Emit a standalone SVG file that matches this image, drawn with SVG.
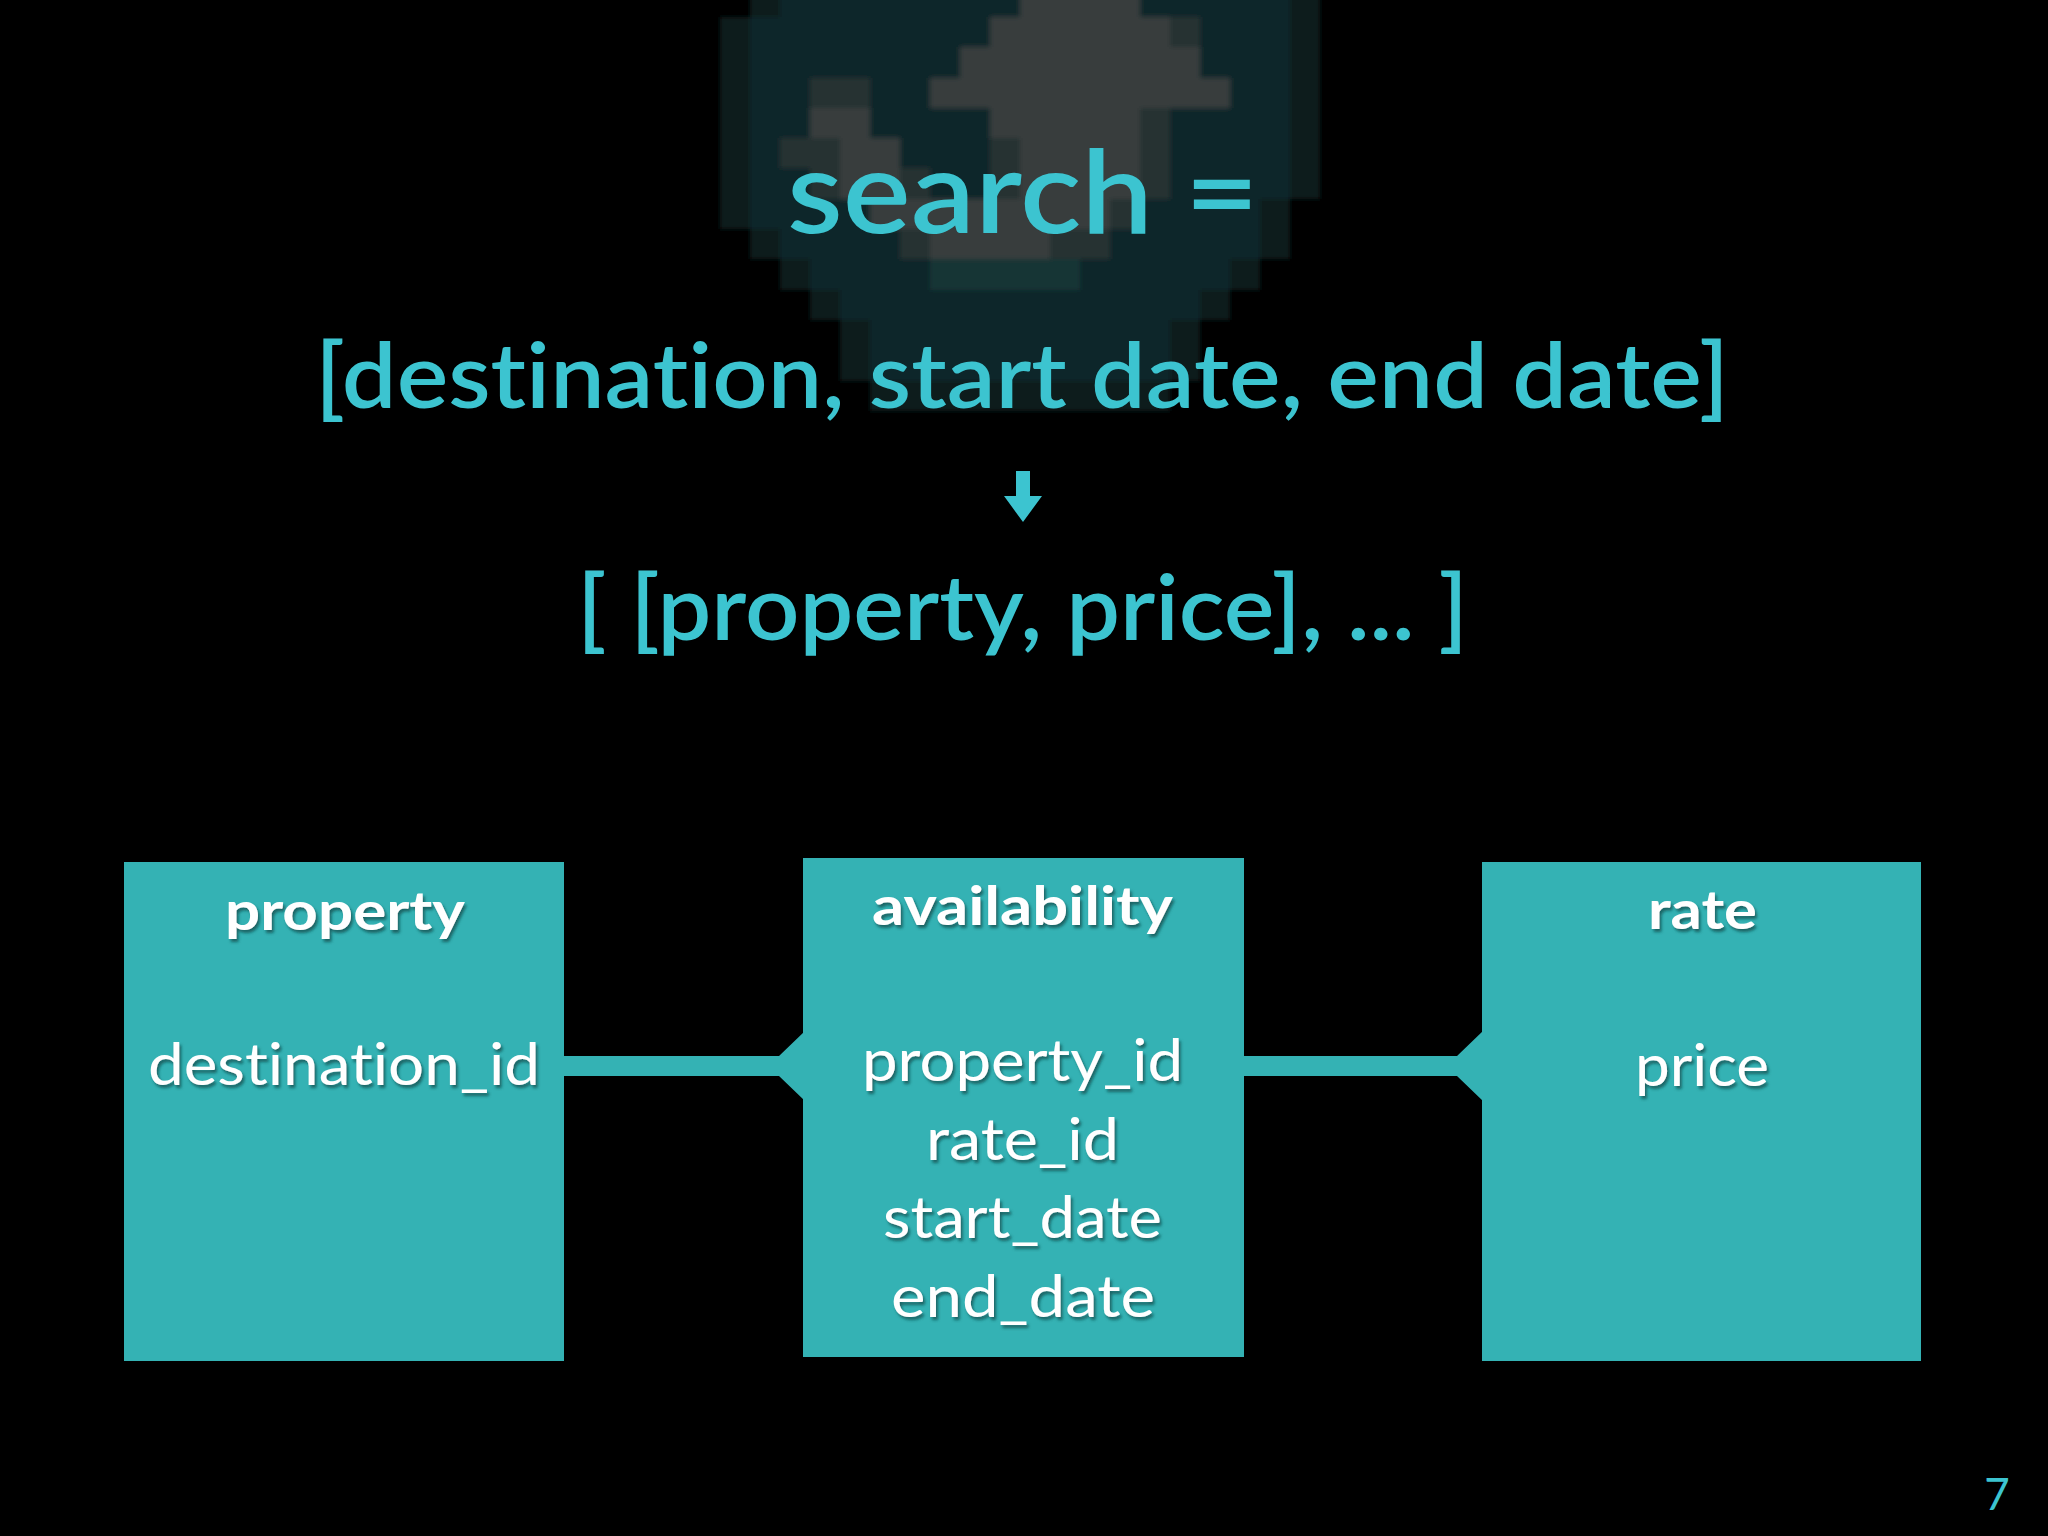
<svg xmlns="http://www.w3.org/2000/svg" width="2048" height="1536" viewBox="0 0 2048 1536">
  <defs>
    <style>
      text { font-variant-ligatures: none; font-feature-settings: "liga" 0; }
      .title { font-family: Lato, "Open Sans", sans-serif; font-weight: 600; fill: #3cc4d0; }
      .pg { font-family: Lato, "Open Sans", sans-serif; font-weight: 400; font-size: 44px; fill: #3cc4d0; }
      .box { fill: #34b2b4; }
      .hdr { font-family: Lato, "Open Sans", sans-serif; font-weight: bold; font-size: 54px; fill: #ffffff; filter: url(#sh); }
      .fld { font-family: Lato, "Open Sans", sans-serif; font-size: 58px; fill: #ffffff; filter: url(#sh); }
      .conn { fill: #34b2b4; }
      .D { fill: #0b1c1e; } .T { fill: #0f282a; } .T2 { fill: #163435; } .g { fill: #283131; } .G { fill: #393c3c; }
    </style>
    <filter id="sh" x="-10%" y="-30%" width="120%" height="160%">
      <feDropShadow dx="2" dy="3" stdDeviation="1.5" flood-color="#114b4c" flood-opacity="0.75"/>
    </filter>
    <filter id="soft" x="-5%" y="-5%" width="110%" height="110%">
      <feGaussianBlur stdDeviation="2.5"/>
    </filter>
  </defs>
  <rect width="2048" height="1536" fill="#000000"/>

  <!-- pixelated background image -->
  <g id="mosaic" filter="url(#soft)">
  <g transform="translate(720,-13.3) scale(30,30.3)" shape-rendering="crispEdges">
    <rect class="D" x="1" y="0" width="1" height="1"/><rect class="T" x="2" y="0" width="8" height="1"/><rect class="G" x="10" y="0" width="4" height="1"/><rect class="T" x="14" y="0" width="5" height="1"/><rect class="D" x="19" y="0" width="1" height="1"/>
    <rect class="D" x="0" y="1" width="1" height="1"/><rect class="T" x="1" y="1" width="8" height="1"/><rect class="G" x="9" y="1" width="6" height="1"/><rect class="g" x="15" y="1" width="1" height="1"/><rect class="T" x="16" y="1" width="3" height="1"/><rect class="D" x="19" y="1" width="1" height="1"/>
    <rect class="D" x="0" y="2" width="1" height="1"/><rect class="T" x="1" y="2" width="7" height="1"/><rect class="G" x="8" y="2" width="8" height="1"/><rect class="T" x="16" y="2" width="3" height="1"/><rect class="D" x="19" y="2" width="1" height="1"/>
    <rect class="D" x="0" y="3" width="1" height="1"/><rect class="T" x="1" y="3" width="2" height="1"/><rect class="g" x="3" y="3" width="2" height="1"/><rect class="T" x="5" y="3" width="2" height="1"/><rect class="G" x="7" y="3" width="10" height="1"/><rect class="T" x="17" y="3" width="2" height="1"/><rect class="D" x="19" y="3" width="1" height="1"/>
    <rect class="D" x="0" y="4" width="1" height="1"/><rect class="T" x="1" y="4" width="2" height="1"/><rect class="G" x="3" y="4" width="2" height="1"/><rect class="T" x="5" y="4" width="4" height="1"/><rect class="G" x="9" y="4" width="5" height="1"/><rect class="g" x="14" y="4" width="1" height="1"/><rect class="T" x="15" y="4" width="4" height="1"/><rect class="D" x="19" y="4" width="1" height="1"/>
    <rect class="D" x="0" y="5" width="1" height="1"/><rect class="T" x="1" y="5" width="1" height="1"/><rect class="g" x="2" y="5" width="2" height="1"/><rect class="G" x="4" y="5" width="2" height="1"/><rect class="T" x="6" y="5" width="3" height="1"/><rect class="g" x="9" y="5" width="1" height="1"/><rect class="G" x="10" y="5" width="4" height="1"/><rect class="g" x="14" y="5" width="1" height="1"/><rect class="T" x="15" y="5" width="4" height="1"/><rect class="D" x="19" y="5" width="1" height="1"/>
    <rect class="D" x="0" y="6" width="1" height="1"/><rect class="T" x="1" y="6" width="2" height="1"/><rect class="g" x="3" y="6" width="1" height="1"/><rect class="G" x="4" y="6" width="2" height="1"/><rect class="g" x="6" y="6" width="1" height="1"/><rect class="T" x="7" y="6" width="2" height="1"/><rect class="g" x="9" y="6" width="1" height="1"/><rect class="G" x="10" y="6" width="4" height="1"/><rect class="g" x="14" y="6" width="1" height="1"/><rect class="T" x="15" y="6" width="4" height="1"/><rect class="D" x="19" y="6" width="1" height="1"/>
    <rect class="D" x="0" y="7" width="1" height="1"/><rect class="T" x="1" y="7" width="4" height="1"/><rect class="G" x="5" y="7" width="8" height="1"/><rect class="g" x="13" y="7" width="1" height="1"/><rect class="T" x="14" y="7" width="4" height="1"/><rect class="D" x="18" y="7" width="1" height="1"/>
    <rect class="D" x="1" y="8" width="1" height="1"/><rect class="T" x="2" y="8" width="4" height="1"/><rect class="g" x="6" y="8" width="1" height="1"/><rect class="G" x="7" y="8" width="4" height="1"/><rect class="g" x="11" y="8" width="2" height="1"/><rect class="T" x="13" y="8" width="5" height="1"/><rect class="D" x="18" y="8" width="1" height="1"/>
    <rect class="D" x="2" y="9" width="1" height="1"/><rect class="T" x="3" y="9" width="4" height="1"/><rect class="T2" x="7" y="9" width="5" height="1"/><rect class="T" x="12" y="9" width="5" height="1"/><rect class="D" x="17" y="9" width="1" height="1"/>
    <rect class="D" x="3" y="10" width="1" height="1"/><rect class="T" x="4" y="10" width="12" height="1"/><rect class="D" x="16" y="10" width="1" height="1"/>
    <rect class="D" x="4" y="11" width="1" height="1"/><rect class="T" x="5" y="11" width="10" height="1"/><rect class="D" x="15" y="11" width="1" height="1"/>
    <rect class="D" x="4" y="12" width="1" height="1"/><rect class="T" x="5" y="12" width="10" height="1"/><rect class="D" x="15" y="12" width="1" height="1"/>
    <rect class="D" x="5" y="13" width="10" height="1"/>
  </g>
  </g>

  <!-- headings -->
  <g id="heading">
    <text class="title" x="787" y="233" font-size="116" textLength="472" lengthAdjust="spacingAndGlyphs">search =</text>
    <text class="title" x="315" y="408" font-size="90" textLength="1414" lengthAdjust="spacingAndGlyphs">[destination, start date, end date]</text>
    <polygon class="title" points="1016,471 1030,471 1030,496 1042,496 1023,522 1004,496 1016,496"/>
    <text class="title" x="577" y="640" font-size="90" textLength="891" lengthAdjust="spacingAndGlyphs">[ [property, price], ... ]</text>
  </g>

  <!-- connectors -->
  <g id="connectors">
    <path class="conn" d="M562,1056 H779 L805,1031 V1101 L779,1076 H562 Z"/>
    <path class="conn" d="M1242,1056 H1457 L1484,1030 V1102 L1457,1076 H1242 Z"/>
  </g>

  <!-- nodes -->
  <g id="property">
    <rect class="box" x="124" y="862" width="440" height="499"/>
    <text class="hdr" x="225" y="930" textLength="240" lengthAdjust="spacingAndGlyphs">property</text>
    <text class="fld" x="148" y="1085" textLength="392" lengthAdjust="spacingAndGlyphs">destination_id</text>
  </g>
  <g id="availability">
    <rect class="box" x="803" y="858" width="441" height="499"/>
    <text class="hdr" x="872" y="925" textLength="301" lengthAdjust="spacingAndGlyphs">availability</text>
    <text class="fld" x="862" y="1081" textLength="321" lengthAdjust="spacingAndGlyphs">property_id</text>
    <text class="fld" x="926" y="1160" textLength="193" lengthAdjust="spacingAndGlyphs">rate_id</text>
    <text class="fld" x="883" y="1238" textLength="279" lengthAdjust="spacingAndGlyphs">start_date</text>
    <text class="fld" x="891" y="1317" textLength="264" lengthAdjust="spacingAndGlyphs">end_date</text>
  </g>
  <g id="rate">
    <rect class="box" x="1482" y="862" width="439" height="499"/>
    <text class="hdr" x="1648" y="929" textLength="109" lengthAdjust="spacingAndGlyphs">rate</text>
    <text class="fld" x="1635" y="1086" textLength="134" lengthAdjust="spacingAndGlyphs">price</text>
  </g>

  <text class="pg" x="1997" y="1510" text-anchor="middle">7</text>
</svg>
